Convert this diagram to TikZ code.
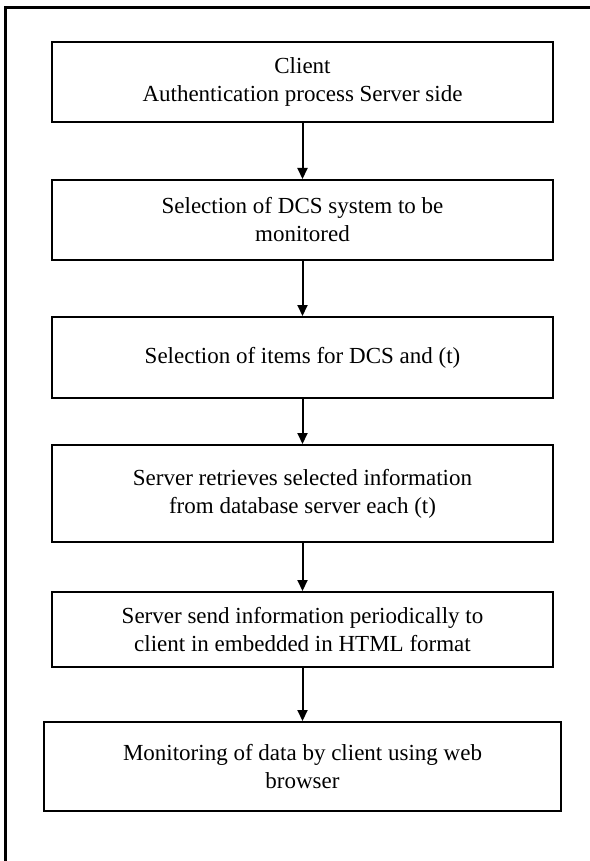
\documentclass[tikz,border=0pt]{standalone}
\usepackage{fontspec}
\setmainfont{Liberation Serif}
\usetikzlibrary{arrows.meta}

\tikzset{
  stepbox/.style={draw=black, line width=2pt, fill=white, rectangle,
    inner sep=0pt, align=center, minimum width=501pt,
    font=\fontsize{23}{28}\selectfont},
  flowarrow/.style={line width=2pt, -{Triangle[width=10pt,length=11pt]}},
  frameline/.style={line width=3pt, line cap=rect}
}

\begin{document}
\begin{tikzpicture}[x=1pt,y=1pt]
  \useasboundingbox (0,0) rectangle (589,-861);
  \fill[white] (0,0) rectangle (589,-861);

  % outer frame (top and left edges)
  \draw[frameline] (5.5,-870) -- (5.5,-8) -- (600,-8);

  % process steps
  \node[stepbox, minimum height=80pt] (b1) at (302.5,-82)
    {Client\\Authentication process Server side};
  \node[stepbox, minimum height=80pt] (b2) at (302.5,-220)
    {Selection of DCS system to be\\monitored};
  \node[stepbox, minimum height=81pt] (b3) at (302.5,-357.5)
    {Selection of items for DCS and (t)};
  \node[stepbox, minimum height=97pt] (b4) at (302.5,-493.5)
    {Server retrieves selected information\\from database server each (t)};
  \node[stepbox, minimum height=75pt] (b5) at (302.5,-629.5)
    {Server send information periodically to\\client in embedded in HTML format};
  \node[stepbox, minimum height=89pt, minimum width=517pt] (b6) at (302.5,-766.5)
    {Monitoring of data by client using web\\browser};

  % connectors
  \draw[flowarrow] (b1.south) -- (b2.north);
  \draw[flowarrow] (b2.south) -- (b3.north);
  \draw[flowarrow] (b3.south) -- (b4.north);
  \draw[flowarrow] (b4.south) -- (b5.north);
  \draw[flowarrow] (b5.south) -- (b6.north);
\end{tikzpicture}
\end{document}
